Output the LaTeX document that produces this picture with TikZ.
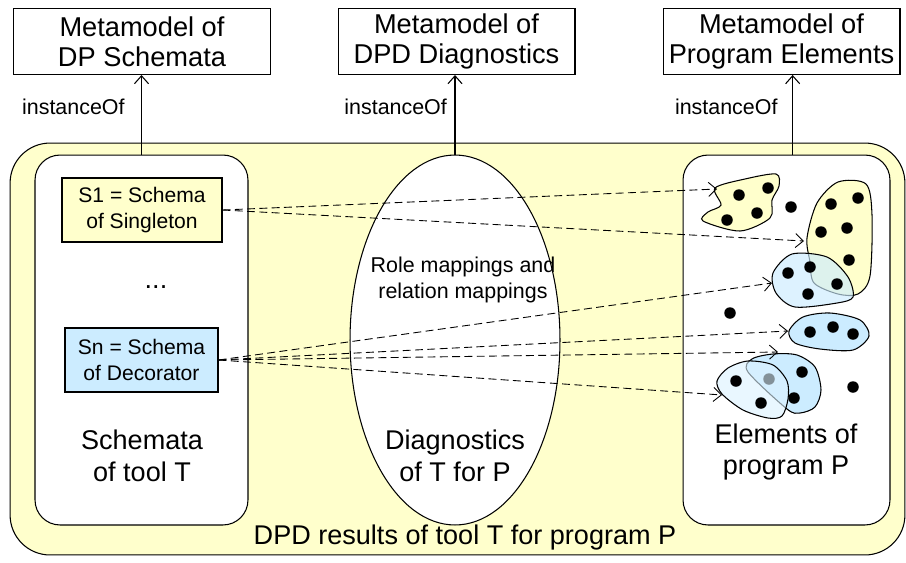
\documentclass[tikz,border=0pt]{standalone}
\usepackage{fontspec}
\setmainfont{Liberation Sans}
\usetikzlibrary{shapes.geometric,arrows.meta}
\definecolor{pale}{HTML}{FFFFCC}
\definecolor{sky}{HTML}{CCECFF}
\tikzset{>={Straight Barb[length=4.5pt,width=8pt]},
  meta/.style={draw,minimum width=4.74cm,minimum height=1.32cm,align=center,inner sep=1pt,font=\fontsize{15.5}{17.2}\selectfont},
  part/.style={draw,fill=white,rounded corners=0.5cm,minimum width=4.26cm,minimum height=7.4cm},
  schemabox/.style={draw,align=center,minimum height=1.28cm,font=\fontsize{12}{15}\selectfont},
  small/.style={align=center,font=\fontsize{12.2}{14.5}\selectfont},
  big/.style={align=center,font=\fontsize{15.4}{18}\selectfont},
  map/.style={->,dash pattern=on 4.5pt off 2.5pt,line width=0.5pt}
}

\begin{document}
\begin{tikzpicture}[x=0.02cm,y=-0.02cm,line width=0.6pt]
        \useasboundingbox (0,0) rectangle (906,562);
        % metamodels
        \node[meta,minimum width=5.14cm] (mschema) at (142,41.5) {Metamodel of\\DP Schemata};
        \node[meta] (mdiag) at (456.5,41.5) {Metamodel of\\DPD Diagnostics};
        \node[meta] (melem) at (781.5,41.5) {Metamodel of\\Program Elements};

        % results of tool T
        \node[draw,fill=pale,rounded corners=0.8cm,minimum width=17.9cm,minimum height=8.24cm] (res) at (457.5,349) {};
        \node[big] (restext) at (465,537) {DPD results of tool T for program P};
        \node[part] (schemata) at (141.5,340) {};
        \node[draw,fill=white,ellipse,minimum width=4.2cm,minimum height=7.4cm] (diag) at (455,340) {};
        \node[part,minimum width=4.14cm] (elems) at (786.5,340) {};

        \draw[->] (schemata.north) -- (schemata.north |- mschema.south)
            node[pos=0.6,left=6pt,small] {instanceOf};
        \draw[->] (diag.north) -- (diag.north |- mdiag.south)
            node[pos=0.6,left=1pt,small] {instanceOf};
        \draw[->] ([xshift=3.5]elems.north) -- ([xshift=3.5]elems.north |- melem.south)
            node[pos=0.6,left=5pt,small] {instanceOf};

        % schemata
        \node[schemabox,fill=pale,minimum width=3.2cm] (s1) at (142,210) {S1 = Schema\\of Singleton};
        \node[big] (dots) at (156,287) {...};
        \node[schemabox,fill=sky,minimum width=3.06cm] (sn) at (141.5,360) {Sn = Schema\\of Decorator};
        \node[big] (schlabel) at (142,456) {Schemata\\of tool T};

        % diagnostics
        \node[small] (roles) at (463,280) {Role mappings and\\relation mappings};
        \node[big] (diaglabel) at (455,456) {Diagnostics\\of T for P};

        % program elements
        \node[big] (elemlabel) at (786,452) {Elements of\\program P};
        \filldraw[fill=pale] plot[smooth cycle] coordinates
            {(715,188) (745,179) (776,174) (779,186) (772,200) (770,218) (740,231) (703,221) (708,212) (721,205)};
        \foreach \p in {(739,195),(768,188),(727,220),(757,213)}
            \fill \p circle (0.115cm);
        \filldraw[fill=pale] plot[smooth cycle] coordinates
            {(810,262) (807,238) (817,203) (838,182) (866,184) (872,215) (870,276) (858,294) (838,294) (814,283)};
        \foreach \p in {(831,204),(858,198),(821,232),(847,228),(849,260)}
            \fill \p circle (0.115cm);
        \filldraw[fill=sky,fill opacity=0.65] plot[smooth cycle] coordinates
            {(773,273) (792,254) (827,257) (848,277) (853,297) (837,303) (795,307) (776,293)};
        \foreach \p in {(788,273),(810,267),(837,284),(808,294)}
            \fill \p circle (0.115cm);
        \filldraw[fill=sky] plot[smooth cycle] coordinates
            {(789,331) (803,317) (830,313) (860,320) (869,336) (853,350) (820,349) (795,343)};
        \foreach \p in {(810,332),(833,327),(853,334)}
            \fill \p circle (0.115cm);
        \filldraw[fill=sky] plot[smooth cycle] coordinates
            {(752,359) (773,354) (797,355) (815,367) (821,390) (815,407) (800,413) (787,409) (748,372)};
        \foreach \p in {(802,372),(794,398),(769,379)}
            \fill \p circle (0.115cm);
        \filldraw[fill=sky!70,fill opacity=0.6] plot[smooth cycle] coordinates
            {(717,381) (728,368) (748,361) (773,365) (787,381) (788,399) (782,416) (768,418) (743,410) (722,394)};
        \foreach \p in {(736,381),(761,403),(791,207),(730,313),(853,387)}
            \fill \p circle (0.115cm);

        % role and relation mappings
        \coordinate (ta) at (717,189);
        \coordinate (tb) at (804,241);
        \coordinate (tc) at (772,283);
        \coordinate (td) at (788,331);
        \coordinate (te) at (778,352);
        \coordinate (tf) at (722,395);
        \foreach \t in {ta,tb}
            \draw[map] (s1.east) -- (\t);
        \foreach \t in {tc,td,te,tf}
            \draw[map] (sn.east) -- (\t);
    \end{tikzpicture}
\end{document}
